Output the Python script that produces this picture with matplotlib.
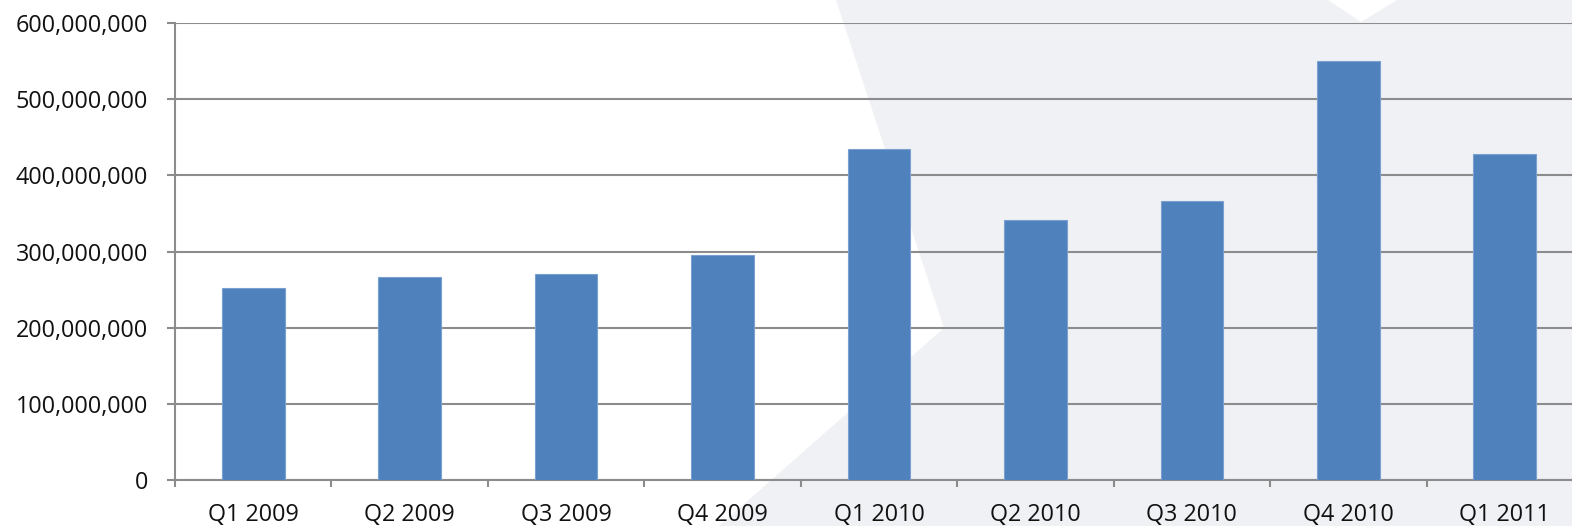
import numpy as np
import matplotlib.pyplot as plt
from matplotlib.patches import Polygon
from matplotlib.transforms import Affine2D
from matplotlib.ticker import FuncFormatter

quarters = ["Q1 2009", "Q2 2009", "Q3 2009", "Q4 2009",
            "Q1 2010", "Q2 2010", "Q3 2010", "Q4 2010", "Q1 2011"]
values = [252e6, 266e6, 270e6, 295e6, 434e6, 342e6, 366e6, 550e6, 428e6]

W, H = 1572, 526
fig = plt.figure(figsize=(W / 100, H / 100), dpi=100)
fig.patch.set_facecolor("white")

# light decorative shape behind the chart, in pixel coords from top-left
flip = Affine2D().scale(1, -1).translate(0, H)
bg = Polygon([(836, 0), (1328, 0), (1361, 22), (1397, 0), (W, 0), (W, H),
              (719, H), (944, 328)], closed=True,
             facecolor="#f0f1f5", edgecolor="none", zorder=-10)
bg.set_transform(flip)
fig.patches.append(bg)

# axes run past the right edge like in the original
ax = fig.add_axes([175 / W, (H - 480) / H, 1408 / W, (480 - 23) / H])
ax.patch.set_alpha(0)

x = np.arange(len(quarters))
ax.bar(x, values, width=0.4, color="#4f81bd", edgecolor="#7aa0d0",
       linewidth=0.8, zorder=3)

ax.set_xlim(-0.5, len(quarters) - 0.5)
ax.set_ylim(0, 600e6)
ax.set_yticks(np.arange(0, 600e6 + 1, 100e6))
ax.yaxis.set_major_formatter(FuncFormatter(lambda v, p: f"{int(v):,}"))
ax.set_xticks(x)
ax.set_xticklabels(quarters)
ax.set_xticks(np.arange(-0.5, len(quarters), 1), minor=True)
ax.tick_params(axis="x", which="major", length=0, pad=16.5)
ax.tick_params(axis="x", which="minor", length=5, color="#8c8c8c", width=1.5)
ax.tick_params(axis="y", length=5.8, color="#8c8c8c", width=1.5, pad=13.5)

for lab in ax.get_xticklabels() + ax.get_yticklabels():
    lab.set_fontfamily(["Open Sans", "DejaVu Sans"])
    lab.set_fontsize(16.8)
    lab.set_color("#111111")

ax.grid(axis="y", color="#8c8c8c", linewidth=1.5, zorder=0)
for s in ["top", "right"]:
    ax.spines[s].set_visible(False)
for s in ["left", "bottom"]:
    ax.spines[s].set_color("#8c8c8c")
    ax.spines[s].set_linewidth(1.5)

fig.savefig("out.png", dpi=100)
